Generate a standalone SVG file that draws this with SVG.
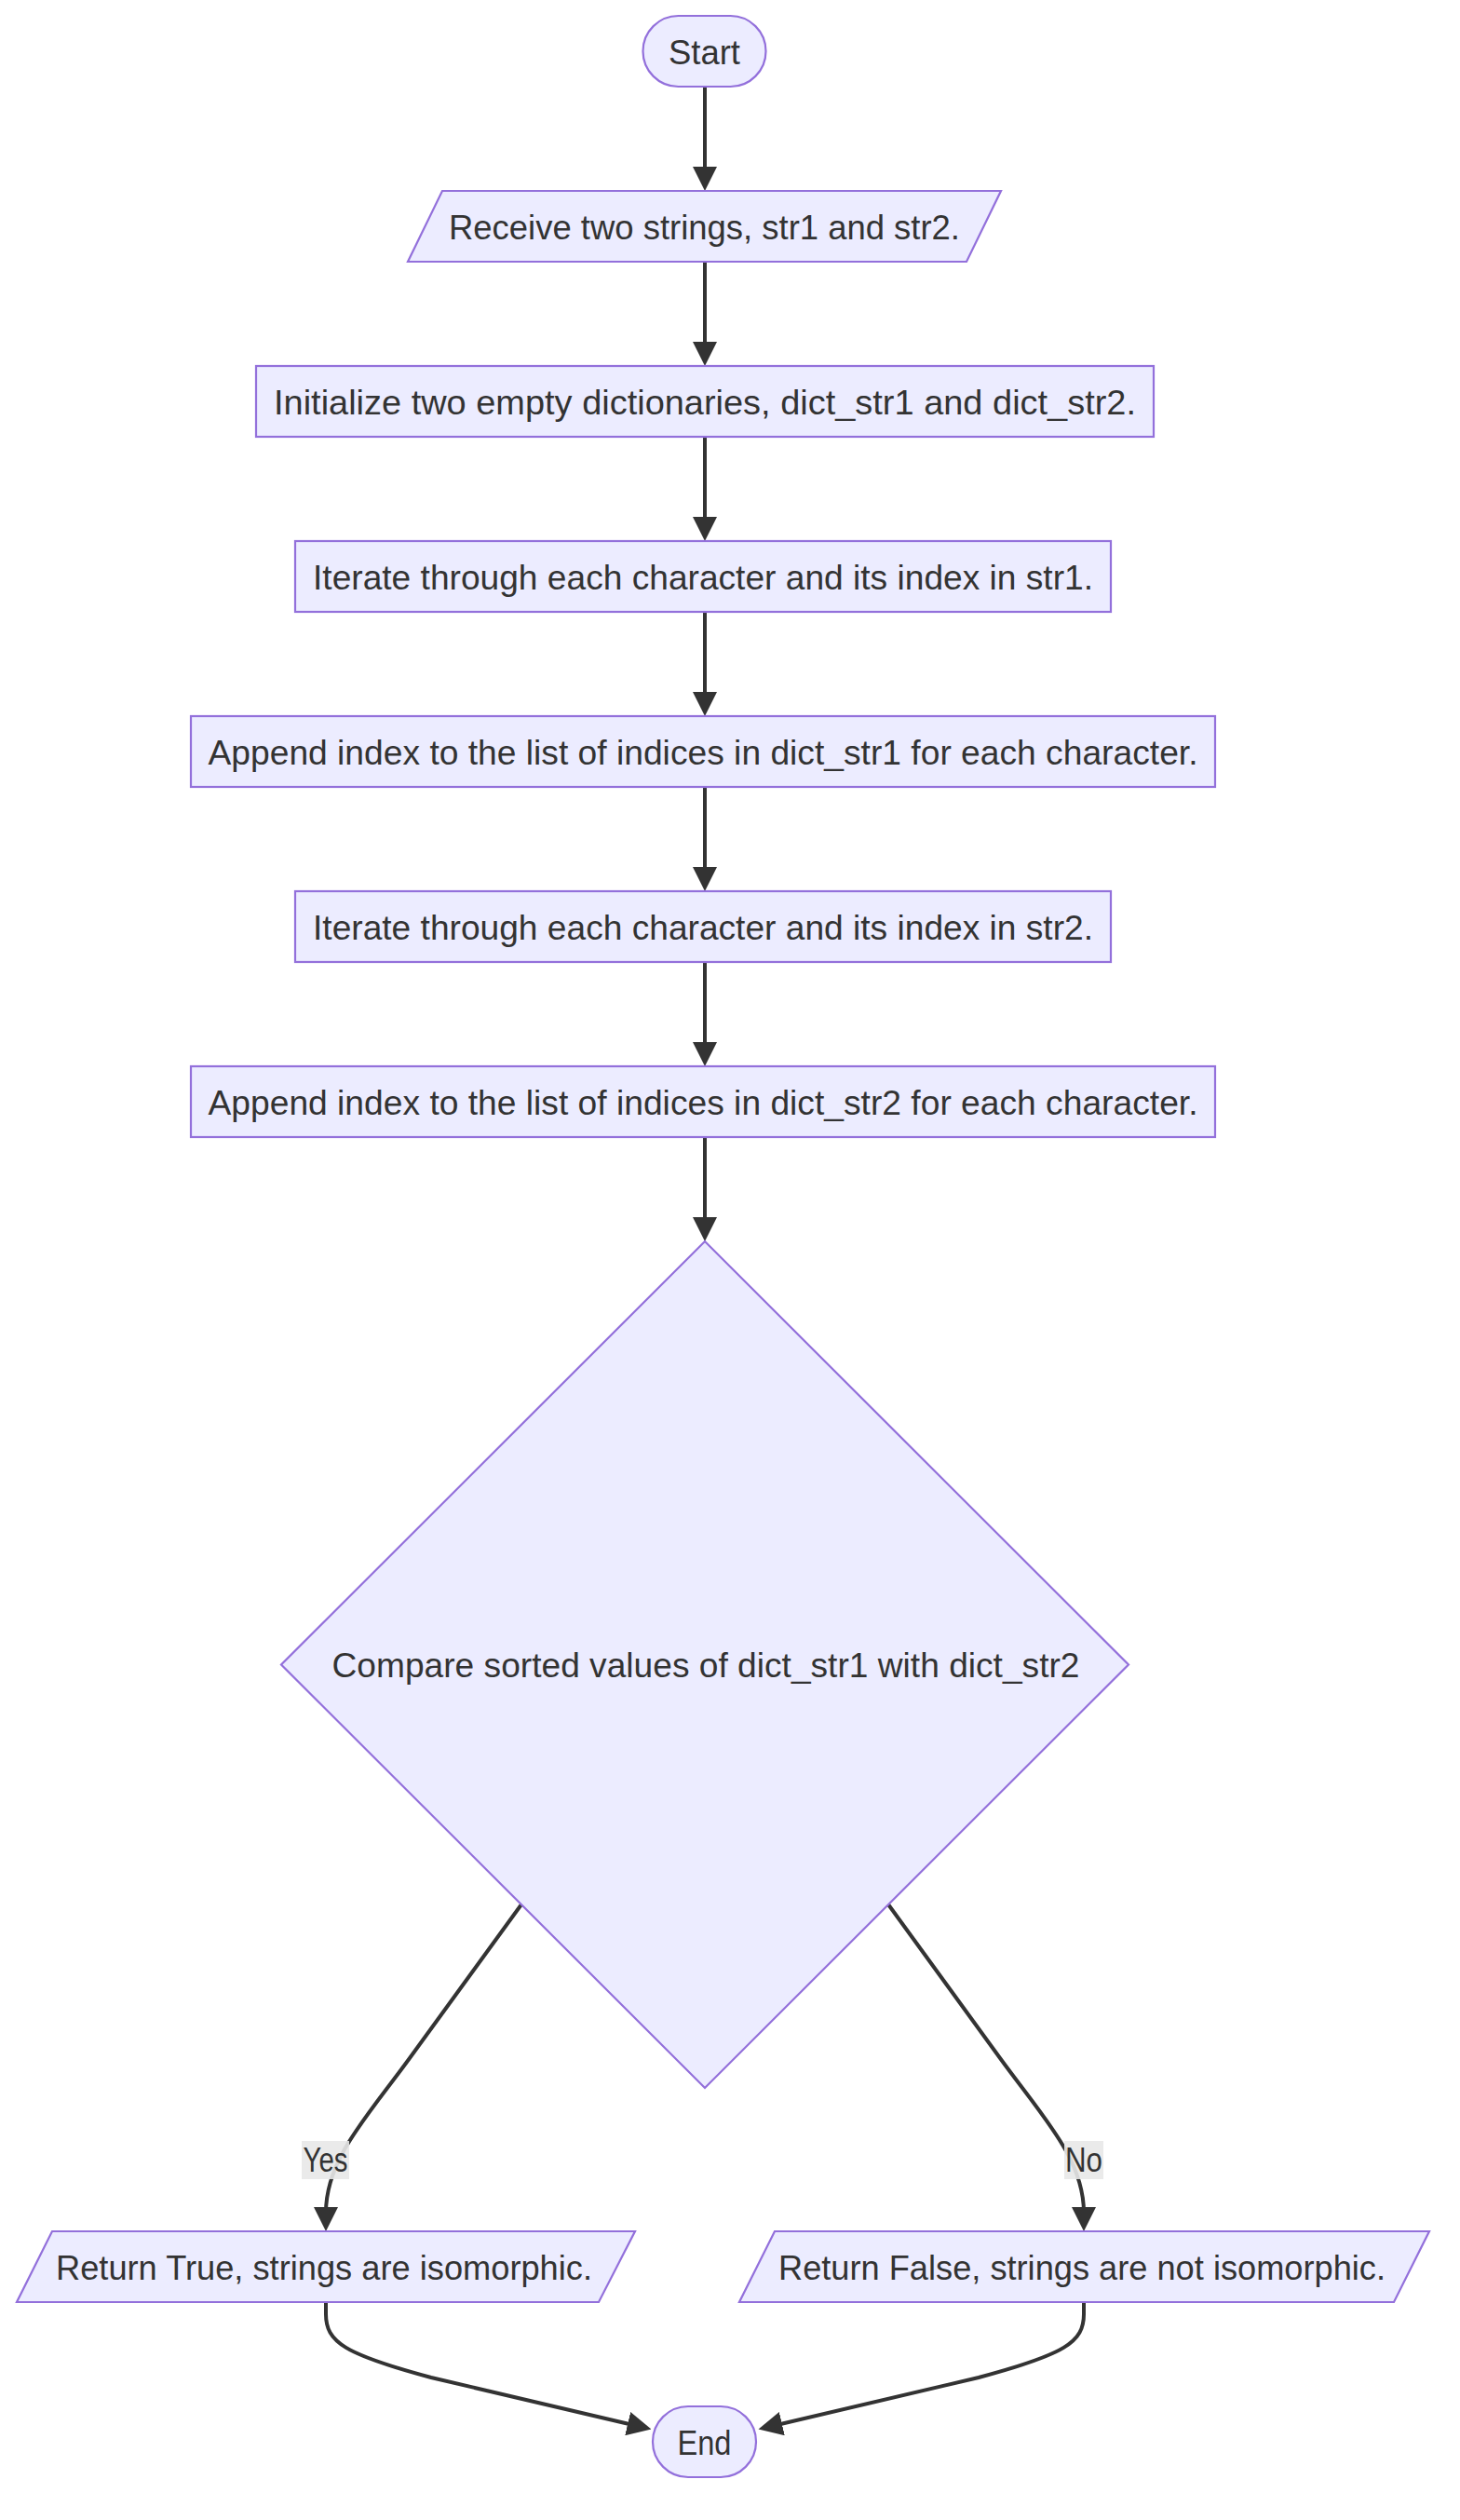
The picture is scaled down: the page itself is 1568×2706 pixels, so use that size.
<svg xmlns="http://www.w3.org/2000/svg" width="1568" height="2706" viewBox="0 0 1568 2706">
<style>
.node{fill:#ECECFF;stroke:#9370DB;stroke-width:2.2}
.lbl{font-family:"Liberation Sans",Arial,sans-serif;font-size:36px;fill:#333333;text-anchor:middle}
.edge{fill:none;stroke:#333333;stroke-width:4}
.ebg{fill:#e8e8e8;opacity:0.9}
</style>
<defs>
<marker id="arr" markerUnits="userSpaceOnUse" markerWidth="26" markerHeight="26" refX="6" refY="13" orient="auto" viewBox="0 0 26 26">
<path d="M0,0 L26,13 L0,26 z" fill="#333333"/>
</marker>
</defs>
<rect width="1568" height="2706" fill="#ffffff"/>
<g id="connectors">
<path class="edge" d="M757,93 L757,185" marker-end="url(#arr)"/>
<path class="edge" d="M757,281 L757,373" marker-end="url(#arr)"/>
<path class="edge" d="M757,469 L757,561" marker-end="url(#arr)"/>
<path class="edge" d="M757,657 L757,749" marker-end="url(#arr)"/>
<path class="edge" d="M757,845 L757,937" marker-end="url(#arr)"/>
<path class="edge" d="M757,1033 L757,1125" marker-end="url(#arr)"/>
<path class="edge" d="M757,1221 L757,1313" marker-end="url(#arr)"/>
<path class="edge" d="M560,2045 L440,2210 C395,2272 350,2318 350,2376" marker-end="url(#arr)"/>
<path class="edge" d="M954,2045 L1074,2210 C1119,2272 1164,2318 1164,2376" marker-end="url(#arr)"/>
<path class="edge" d="M350,2472 L350,2485 C350,2515 370,2528 463,2553 L680,2604" marker-end="url(#arr)"/>
<path class="edge" d="M1164,2472 L1164,2485 C1164,2515 1144,2528 1051,2553 L834,2604" marker-end="url(#arr)"/>
<g id="label-yes">
<rect class="ebg" x="324" y="2299" width="51" height="41"/>
<text class="lbl" x="349.5" y="2332" textLength="48" lengthAdjust="spacingAndGlyphs">Yes</text>
</g>
<g id="label-no">
<rect class="ebg" x="1143" y="2299" width="42" height="41"/>
<text class="lbl" x="1164" y="2332" textLength="40" lengthAdjust="spacingAndGlyphs">No</text>
</g>
</g>
<g id="start">
<rect class="node" x="690.5" y="17" width="132" height="76" rx="38" ry="38"/>
<text class="lbl" x="756.5" y="69" textLength="77" lengthAdjust="spacingAndGlyphs">Start</text>
</g>
<g id="receive">
<polygon class="node" points="475,205 1075,205 1038,281 438,281"/>
<text class="lbl" x="756.5" y="257" textLength="549" lengthAdjust="spacingAndGlyphs">Receive two strings, str1 and str2.</text>
</g>
<g id="init">
<rect class="node" x="275" y="393" width="964" height="76"/>
<text class="lbl" x="757" y="444.5" textLength="926" lengthAdjust="spacingAndGlyphs">Initialize two empty dictionaries, dict_str1 and dict_str2.</text>
</g>
<g id="iter1">
<rect class="node" x="317" y="581" width="876" height="76"/>
<text class="lbl" x="755" y="632.5" textLength="838" lengthAdjust="spacingAndGlyphs">Iterate through each character and its index in str1.</text>
</g>
<g id="append1">
<rect class="node" x="205" y="769" width="1100" height="76"/>
<text class="lbl" x="755" y="820.5" textLength="1063" lengthAdjust="spacingAndGlyphs">Append index to the list of indices in dict_str1 for each character.</text>
</g>
<g id="iter2">
<rect class="node" x="317" y="957" width="876" height="76"/>
<text class="lbl" x="755" y="1008.5" textLength="838" lengthAdjust="spacingAndGlyphs">Iterate through each character and its index in str2.</text>
</g>
<g id="append2">
<rect class="node" x="205" y="1145" width="1100" height="76"/>
<text class="lbl" x="755" y="1196.5" textLength="1063" lengthAdjust="spacingAndGlyphs">Append index to the list of indices in dict_str2 for each character.</text>
</g>
<g id="compare">
<polygon class="node" points="757,1333 1212,1787.5 757,2242 302,1787.5"/>
<text class="lbl" x="758" y="1800.5" textLength="803" lengthAdjust="spacingAndGlyphs">Compare sorted values of dict_str1 with dict_str2</text>
</g>
<g id="return-true">
<polygon class="node" points="56,2396 682,2396 643,2472 18,2472"/>
<text class="lbl" x="348" y="2447.5" textLength="576" lengthAdjust="spacingAndGlyphs">Return True, strings are isomorphic.</text>
</g>
<g id="return-false">
<polygon class="node" points="832,2396 1535,2396 1497,2472 794,2472"/>
<text class="lbl" x="1162" y="2447.5" textLength="652" lengthAdjust="spacingAndGlyphs">Return False, strings are not isomorphic.</text>
</g>
<g id="end">
<rect class="node" x="701" y="2584" width="111" height="76" rx="38" ry="38"/>
<text class="lbl" x="756.5" y="2635.5" textLength="58" lengthAdjust="spacingAndGlyphs">End</text>
</g>
</svg>
